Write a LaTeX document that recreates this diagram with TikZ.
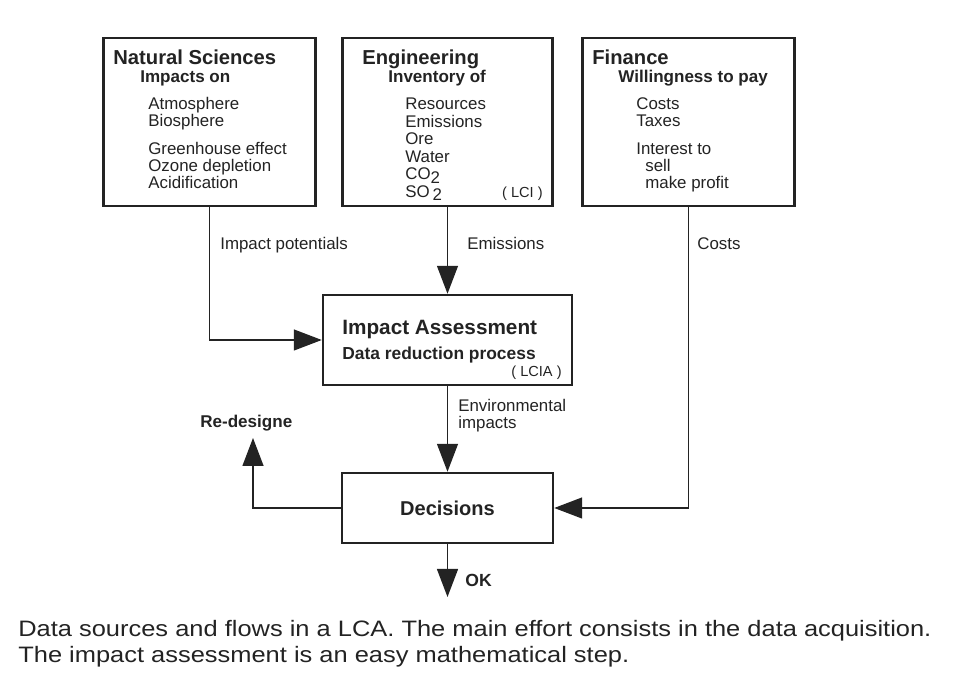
\documentclass[tikz,border=0pt]{standalone}
\usepackage{fontspec}
\setsansfont{Liberation Sans}
\newfontfamily\captionfont[FakeStretch=1.14]{Liberation Sans}
\usepackage{tikz}
\usetikzlibrary{positioning,calc,arrows.meta}
\definecolor{inkgray}{RGB}{35,35,35}

\begin{document}
\begin{tikzpicture}[
	sourcebox/.style={
		rectangle,
		draw=inkgray,
		line width=1.4pt,
		minimum width=4.24cm,
		minimum height=3.36cm
	},
	stepbox/.style={
		rectangle,
		draw=inkgray,
		line width=1.4pt,
		font=\sffamily\bfseries\fontsize{11.4}{13}\selectfont,
		text=inkgray
	},
	flow/.style={
		-{Triangle[length=0.56cm,width=0.42cm]},
		line width=0.8pt,
		color=inkgray
	},
	headtext/.style={
		font=\sffamily\bfseries\fontsize{11.5}{13}\selectfont,
		text=inkgray,
		anchor=base west, inner sep=0pt
	},
	subtext/.style={
		font=\sffamily\bfseries\fontsize{9.7}{11}\selectfont,
		text=inkgray,
		anchor=base west, inner sep=0pt
	},
	itemtext/.style={
		font=\sffamily\fontsize{9.6}{11}\selectfont,
		text=inkgray,
		anchor=base west, inner sep=0pt
	},
	tagtext/.style={
		font=\sffamily\fontsize{8.3}{10}\selectfont,
		text=inkgray,
		anchor=base east, inner sep=0pt
	},
	captiontext/.style={
		font=\captionfont\fontsize{12.7}{15}\selectfont,
		text=inkgray,
		anchor=base west, inner sep=0pt
	}
	]
	
	\useasboundingbox (0,0) rectangle (19.1,13.6);
	
	% Source boxes
	\node[sourcebox] (ns) at (4.19,11.16) {};
	\node[sourcebox, minimum width=4.2cm] (eng) at (8.95,11.16) {};
	\node[sourcebox] (fin) at (13.77,11.16) {};
	
	% Process boxes
	\node[stepbox, minimum width=4.98cm, minimum height=1.8cm] (ia) at (8.95,6.80) {};
	\node[stepbox, minimum width=4.22cm, minimum height=1.4cm] (dec) at (8.95,3.44) {Decisions};
	
	% Natural sciences
	\node[headtext] (nstitle) at (2.26,12.30) {Natural Sciences};
	\node[subtext] (nssub) at (2.80,11.94) {Impacts on};
	\node[itemtext] (ns1) at (2.96,11.40) {Atmosphere};
	\node[itemtext] (ns2) at (2.96,11.06) {Biosphere};
	\node[itemtext] (ns3) at (2.96,10.50) {Greenhouse effect};
	\node[itemtext] (ns4) at (2.96,10.16) {Ozone depletion};
	\node[itemtext] (ns5) at (2.96,9.82) {Acidification};
	
	% Engineering
	\node[headtext] (engtitle) at (7.24,12.30) {Engineering};
	\node[subtext] (engsub) at (7.76,11.94) {Inventory of};
	\node[itemtext] (eng1) at (8.10,11.40) {Resources};
	\node[itemtext] (eng2) at (8.10,11.05) {Emissions};
	\node[itemtext] (eng3) at (8.10,10.70) {Ore};
	\node[itemtext] (eng4) at (8.10,10.35) {Water};
	\node[itemtext] (eng5) at (8.10,10.00) {CO\raisebox{-0.35ex}{2}};
	\node[itemtext] (eng6) at (8.10,9.65) {SO\,\raisebox{-0.35ex}{2}};
	\node[tagtext] (lci) at (10.86,9.65) {( LCI )};
	
	% Finance
	\node[headtext] (fintitle) at (11.84,12.30) {Finance};
	\node[subtext] (finsub) at (12.36,11.94) {Willingness to pay};
	\node[itemtext] (fin1) at (12.72,11.40) {Costs};
	\node[itemtext] (fin2) at (12.72,11.06) {Taxes};
	\node[itemtext] (fin3) at (12.72,10.50) {Interest to};
	\node[itemtext] (fin4) at (12.90,10.16) {sell};
	\node[itemtext] (fin5) at (12.90,9.82) {make profit};
	
	% Impact assessment content
	\node[headtext, font=\sffamily\bfseries\fontsize{11.8}{13}\selectfont] (iatitle) at (6.84,6.90) {Impact Assessment};
	\node[subtext, font=\sffamily\bfseries\fontsize{9.9}{11}\selectfont] (iasub) at (6.84,6.40) {Data reduction process};
	\node[tagtext] (lcia) at (11.24,6.06) {( LCIA )};
	
	% Free ends
	\coordinate (rdtip) at (5.06,4.84);
	\coordinate (okend) at (8.95,1.66);
	
	% Flows
	\draw[flow] (ns.south) |- (ia.west);
	\draw[flow] (eng.south) -- (ia.north);
	\draw[flow] (ia.south) -- (dec.north);
	\draw[flow] (fin.south) |- (dec.east);
	\draw[flow] (dec.west) -| (rdtip);
	\draw[flow] (dec.south) -- (okend);
	
	% Flow labels
	\node[itemtext] (lblpot) at (4.40,8.60) {Impact potentials};
	\node[itemtext] (lblemis) at (9.34,8.60) {Emissions};
	\node[itemtext] (lblcost) at (13.94,8.60) {Costs};
	\node[itemtext] (lblenv1) at (9.16,5.36) {Environmental};
	\node[itemtext] (lblenv2) at (9.16,5.02) {impacts};
	\node[subtext] (lblredesign) at (4.00,5.04) {Re-designe};
	\node[subtext, font=\sffamily\bfseries\fontsize{10}{11}\selectfont] (lblok) at (9.30,1.86) {OK};
	
	% Caption
	\node[captiontext] (cap1) at (0.36,0.86) {Data sources and flows in a LCA. The main effort consists in the data acquisition.};
	\node[captiontext] (cap2) at (0.36,0.34) {The impact assessment is an easy mathematical step.};
	
\end{tikzpicture}
\end{document}
